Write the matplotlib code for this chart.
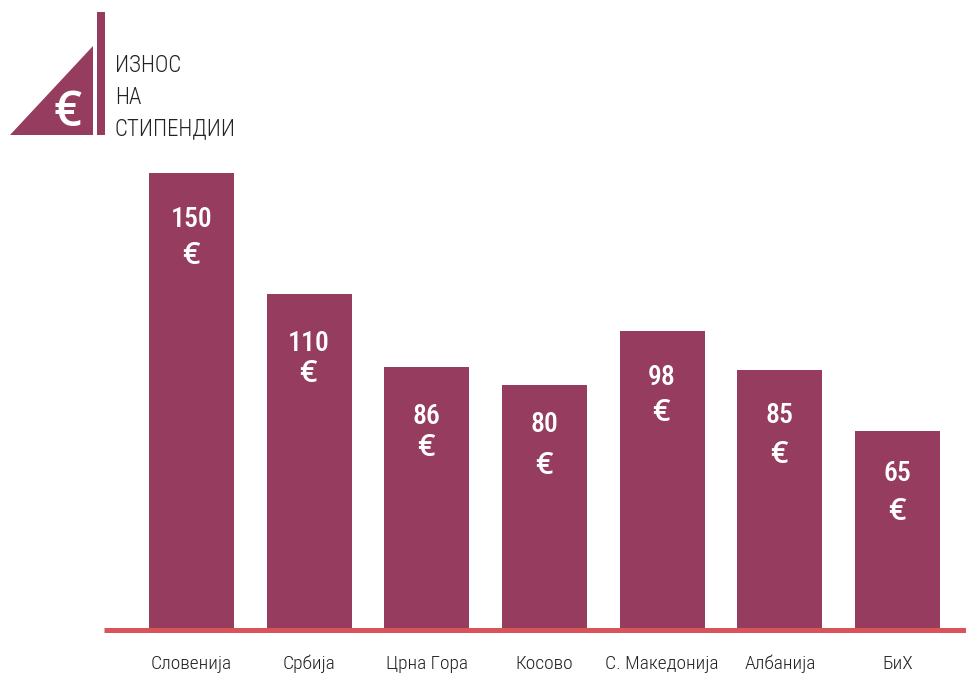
import matplotlib
matplotlib.use("Agg")
import matplotlib.pyplot as plt
from matplotlib.patches import Polygon, Rectangle

countries = ["Словенија", "Србија", "Црна Гора", "Косово", "С. Македонија", "Албанија", "БиХ"]
amounts = [150, 110, 86, 80, 98, 85, 65]
title_lines = ["ИЗНОС", "НА", "СТИПЕНДИИ"]

# pixels below the bar top, the labels wander in the original
number_offsets = [47, 49, 49, 39, 47, 45, 43]
euro_offsets = [83, 80, 81, 81, 82, 85, 81]

PLUM = "#963c5f"
RED = "#d9535a"
INK = "#222222"

plt.rcParams["font.family"] = ["Roboto Condensed", "DejaVu Sans"]

W, H = 966, 673
fig = plt.figure(figsize=(W / 100, H / 100), dpi=100)
ax = fig.add_axes([104 / W, (H - 628) / H, (W - 104) / W, 455 / H])

ax.bar(range(len(amounts)), amounts, width=0.722, color=PLUM, zorder=3)
ax.set_xlim(-0.7436, 6.5824)
ax.set_ylim(0, 150)

for i, v in enumerate(amounts):
    ax.annotate(str(v), (i, v), xytext=(0, -number_offsets[i]), textcoords="offset pixels",
                ha="center", va="center", color="white", fontsize=20, fontweight=500, zorder=4)
    ax.annotate("€", (i, v), xytext=(-1, -euro_offsets[i]), textcoords="offset pixels",
                ha="center", va="center", color="white", fontsize=22, fontweight=600,
                family="Open Sans", zorder=4)
    # tick labels would not take the size, so the names are placed by hand under each bar
    ax.annotate(countries[i], (i, 0), xytext=(0, -36), textcoords="offset pixels",
                ha="center", va="center", color=INK, fontsize=14, fontweight=300,
                annotation_clip=False)

ax.set_xticks([])
ax.set_yticks([])
for side in ["top", "left", "right"]:
    ax.spines[side].set_visible(False)
ax.spines["bottom"].set_color(RED)
ax.spines["bottom"].set_linewidth(3.6)
ax.spines["bottom"].set_capstyle("butt")
ax.spines["bottom"].set_position(("outward", 1.6))

# logo in the top left, drawn in pixel coordinates
logo = fig.add_axes([0, 0, 1, 1], facecolor="none")
logo.set_xlim(0, W)
logo.set_ylim(H, 0)
logo.axis("off")
logo.add_patch(Polygon([(10, 135), (93, 46), (93, 135)], closed=True, color=PLUM, lw=0))
logo.add_patch(Rectangle((97, 12), 8, 123, color=PLUM, lw=0))
logo.text(68, 113, "€", color="white", fontsize=35, fontweight=600, family="Open Sans",
          ha="center", va="center")
for line, y in zip(title_lines, [66, 97.5, 129]):
    logo.text(115, y, line, color=INK, fontsize=16.5, fontweight=300, ha="left", va="center")

fig.savefig("out.png", dpi=100)
